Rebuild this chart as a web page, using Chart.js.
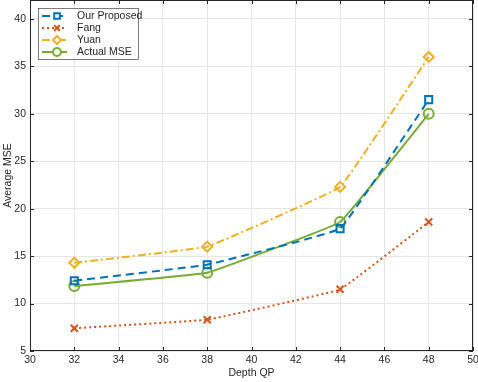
<!DOCTYPE html>
<html>
<head>
<meta charset="utf-8">
<script src="https://cdn.jsdelivr.net/npm/chart.js@4/dist/chart.umd.min.js"></script>
<style>
  html, body { margin: 0; padding: 0; background: #fff; }
  #wrap { width: 478px; height: 382px; }
</style>
</head>
<body>
<div id="wrap"><canvas id="chart-mse" width="478" height="382"></canvas></div>
<script>
const depthQP = [32, 38, 44, 48];
const ourProposed = [12.4, 14.1, 17.9, 31.5];
const fang = [7.4, 8.3, 11.5, 18.6];
const yuan = [14.3, 16.0, 22.3, 36.0];
const actualMSE = [11.85, 13.25, 18.6, 30.0];
const xTicks = [30, 32, 34, 36, 38, 40, 42, 44, 46, 48, 50];
const yTicks = [5, 10, 15, 20, 25, 30, 35, 40];
const xTitle = 'Depth QP';
const yTitle = 'Average MSE';

const pts = arr => arr.map((v, i) => ({ x: depthQP[i], y: v }));
const FONT = '10.5px "Liberation Sans", Arial, sans-serif';
const INK = '#262626';

function series(label, values, color, dash, pointStyle) {
    return {
        label: label,
        data: pts(values),
        borderColor: color,
        backgroundColor: 'rgba(0,0,0,0)',
        pointBorderColor: color,
        pointBackgroundColor: 'rgba(0,0,0,0)',
        borderWidth: 2,
        pointBorderWidth: 2,
        pointRadius: 5,
        pointStyle: pointStyle,
        borderDash: dash,
        tension: 0.06
    };
}

// tick labels, axis titles, frame with inward ticks, legend
const frame = {
    id: 'frame',
    afterDatasetsDraw(chart) {
        const a = chart.chartArea, ctx = chart.ctx;
        const xs = chart.scales.x, ys = chart.scales.y;
        ctx.save();
        ctx.strokeStyle = INK;
        ctx.lineWidth = 1;
        ctx.strokeRect(a.left + 0.5, a.top + 0.5, a.right - a.left - 1, a.bottom - a.top - 1);
        ctx.beginPath();
        xTicks.forEach(t => {
            const px = Math.round(xs.getPixelForValue(t)) + 0.5;
            ctx.moveTo(px, a.bottom); ctx.lineTo(px, a.bottom - 4);
            ctx.moveTo(px, a.top); ctx.lineTo(px, a.top + 4);
        });
        yTicks.forEach(t => {
            const py = Math.round(ys.getPixelForValue(t)) + 0.5;
            ctx.moveTo(a.left, py); ctx.lineTo(a.left + 4, py);
            ctx.moveTo(a.right, py); ctx.lineTo(a.right - 4, py);
        });
        ctx.stroke();

        ctx.fillStyle = INK;
        ctx.font = FONT;
        ctx.textAlign = 'center';
        ctx.textBaseline = 'top';
        xTicks.forEach(t => ctx.fillText(String(t), xs.getPixelForValue(t), a.bottom + 4));
        ctx.fillText(xTitle, (a.left + a.right) / 2, a.bottom + 17);
        ctx.textAlign = 'right';
        ctx.textBaseline = 'middle';
        yTicks.forEach(t => ctx.fillText(String(t), a.left - 4, ys.getPixelForValue(t)));
        ctx.translate(8, (a.top + a.bottom) / 2);
        ctx.rotate(-Math.PI / 2);
        ctx.textAlign = 'center';
        ctx.fillText(yTitle, 0, 0);
        ctx.restore();
    },
    afterDraw(chart) {
        const ctx = chart.ctx;
        const x0 = 38, y0 = 8, w = 100, h = 51;
        ctx.save();
        ctx.fillStyle = '#fff';
        ctx.fillRect(x0, y0, w, h);
        ctx.strokeStyle = INK;
        ctx.lineWidth = 0.6;
        ctx.strokeRect(x0 + 0.5, y0 + 0.5, w, h);
        ctx.font = FONT;
        ctx.textBaseline = 'middle';
        chart.data.datasets.forEach((ds, i) => {
            const cy = y0 + 8 + i * 12;
            ctx.strokeStyle = ds.borderColor;
            ctx.lineWidth = 2;
            ctx.setLineDash(ds.borderDash || []);
            ctx.beginPath();
            ctx.moveTo(x0 + 4, cy);
            ctx.lineTo(x0 + 29, cy);
            ctx.stroke();
            ctx.setLineDash([]);
            ctx.fillStyle = '#fff';
            ctx.strokeStyle = ds.borderColor;
            ctx.lineWidth = 2;
            Chart.helpers.drawPoint(ctx, {
                pointStyle: ds.pointStyle, rotation: 0,
                radius: 4, borderWidth: 2
            }, x0 + 19, cy);
            ctx.fillStyle = INK;
            ctx.fillText(ds.label, x0 + 39, cy + 0.5);
        });
        ctx.restore();
    }
};

new Chart(document.getElementById('chart-mse'), {
    type: 'line',
    data: {
        datasets: [
            series('Our Proposed', ourProposed, '#0072BD', [8, 5], 'rect'),
            series('Fang', fang, '#D95319', [2, 3], 'crossRot'),
            series('Yuan', yuan, '#EDB120', [8, 3, 2, 3], 'rectRot'),
            series('Actual MSE', actualMSE, '#77AC30', [], 'circle')
        ]
    },
    options: {
        responsive: false,
        animation: false,
        layout: { autoPadding: false, padding: { top: 0, right: 5, left: 0, bottom: 0 } },
        plugins: { legend: { display: false }, tooltip: { enabled: false } },
        scales: {
            x: {
                type: 'linear', min: 30, max: 50,
                afterBuildTicks: s => { s.ticks = xTicks.map(v => ({ value: v })); },
                afterFit: s => { s.height = 31; },
                grid: { color: '#e6e6e6', drawTicks: false },
                border: { display: false },
                ticks: { display: false }
            },
            y: {
                type: 'linear', min: 5, max: 42,
                afterBuildTicks: s => { s.ticks = yTicks.map(v => ({ value: v })); },
                afterFit: s => { s.width = 30; },
                grid: { color: '#e6e6e6', drawTicks: false },
                border: { display: false },
                ticks: { display: false }
            }
        }
    },
    plugins: [frame]
});
</script>
</body>
</html>
